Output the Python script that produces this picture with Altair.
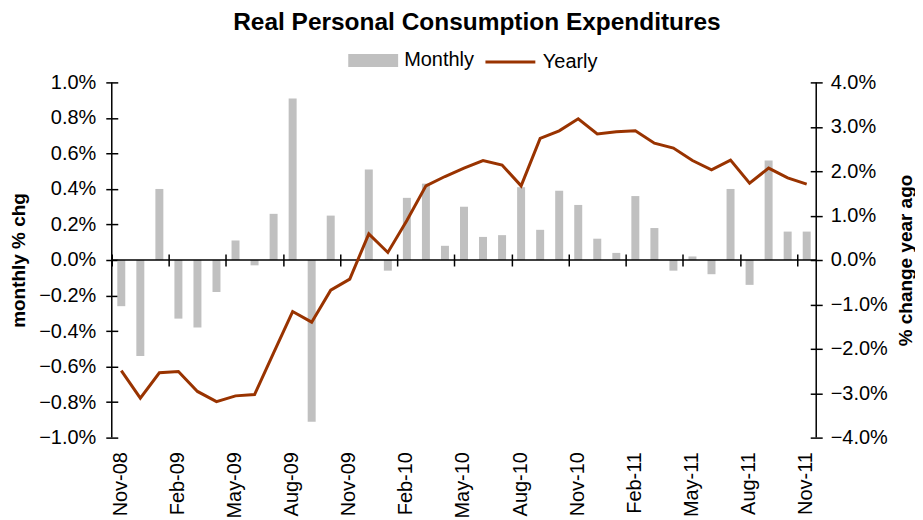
import altair as alt
import pandas as pd

months = ["Nov-08", "Dec-08", "Jan-09", "Feb-09", "Mar-09", "Apr-09", "May-09", "Jun-09",
          "Jul-09", "Aug-09", "Sep-09", "Oct-09", "Nov-09", "Dec-09", "Jan-10", "Feb-10",
          "Mar-10", "Apr-10", "May-10", "Jun-10", "Jul-10", "Aug-10", "Sep-10", "Oct-10",
          "Nov-10", "Dec-10", "Jan-11", "Feb-11", "Mar-11", "Apr-11", "May-11", "Jun-11",
          "Jul-11", "Aug-11", "Sep-11", "Oct-11", "Nov-11"]

monthly = [-0.26, -0.54, 0.40, -0.33, -0.38, -0.18, 0.11, -0.03, 0.26, 0.91, -0.91, 0.25,
           0.00, 0.51, -0.06, 0.35, 0.43, 0.08, 0.30, 0.13, 0.14, 0.41, 0.17, 0.39,
           0.31, 0.12, 0.04, 0.36, 0.18, -0.06, 0.02, -0.08, 0.40, -0.14, 0.56, 0.16, 0.16]

yearly = [-2.49, -3.11, -2.54, -2.51, -2.96, -3.19, -3.06, -3.03, -2.09, -1.16, -1.40, -0.68,
          -0.43, 0.59, 0.17, 0.89, 1.67, 1.88, 2.07, 2.24, 2.14, 1.67, 2.74, 2.91,
          3.18, 2.84, 2.89, 2.91, 2.63, 2.52, 2.24, 2.03, 2.25, 1.73, 2.07, 1.85, 1.71]

tick_labels = months[::3]
left_ticks = [-1.0, -0.8, -0.6, -0.4, -0.2, 0.0, 0.2, 0.4, 0.6, 0.8, 1.0]
right_ticks = [-4, -3, -2, -1, 0, 1, 2, 3, 4]

n = len(months)
df = pd.DataFrame({
    "idx": [i + 0.5 for i in range(n)],
    "month": months,
    "monthly": monthly,
    "yearly": yearly,
    "sm": ["Monthly"] * n,
    "sy": ["Yearly"] * n,
})
edges = pd.DataFrame({"edge": [0, n]})
zero = pd.DataFrame({"z": [0.0]})

W, H = 706, 356
FONT = "Arial, Liberation Sans, sans-serif"
GRAY = "#c0c0c0"
RED = "#993300"
TK = 12      # crossing tick length
HALF = 6     # half of it

label_arr = "[" + ",".join("'" + t + "'" for t in tick_labels) + "]"

common_legend = dict(title=None, orient="none", direction="horizontal",
                     symbolSize=2500, labelFontSize=20, labelFont=FONT, labelColor="#000",
                     labelOffset=6, padding=0)

bar_legend = alt.Legend(legendX=237, legendY=-47,
                        symbolType="M-1,-0.26H1V0.26H-1Z", symbolStrokeWidth=0,
                        symbolOpacity=1, **common_legend)
line_legend = alt.Legend(legendX=373, legendY=-47,
                         symbolType="stroke", symbolStrokeWidth=3, symbolOpacity=1,
                         **common_legend)

xscale = alt.Scale(domain=[0, n], nice=False, zero=False, padding=0)
xaxis = alt.Axis(
    values=list(range(0, n, 3)), labelExpr=label_arr + "[round(datum.value/3)]",
    title=None, offset=-H / 2 - HALF, labelPadding=186, tickSize=TK, labelAngle=270,
    labelOffset=8.5, grid=False, labelFontSize=20, labelFont=FONT, domain=False,
    labelColor="#000", tickColor="#000", tickWidth=1.5,
    labelOverlap=False, labelBound=False, labelFlush=False)

yscale_l = alt.Scale(domain=[-1, 1], nice=False)
yaxis_l = alt.Axis(
    values=left_ticks, labelExpr="format(datum.value, '.1f') + '%'",
    title="monthly % chg", titleFontSize=19, titleFont=FONT, titleFontWeight="bold",
    titleColor="#000", titlePadding=10, tickSize=TK, offset=-HALF, labelPadding=10,
    grid=False, domain=False, labelFontSize=20, labelFont=FONT, labelColor="#000",
    tickColor="#000", tickWidth=1.5)

bars = alt.Chart(df).mark_bar(size=8).encode(
    x=alt.X("idx:Q", scale=xscale, axis=xaxis),
    y=alt.Y("monthly:Q", scale=yscale_l, axis=yaxis_l),
    color=alt.Color("sm:N", scale=alt.Scale(domain=["Monthly"], range=[GRAY]), legend=bar_legend),
)

zero_rule = alt.Chart(zero).mark_rule(color="#000", strokeWidth=1.5).encode(
    y=alt.Y("z:Q", scale=yscale_l, axis=yaxis_l),
)

edge_rules = alt.Chart(edges).mark_rule(color="#000", strokeWidth=1.5).encode(
    x=alt.X("edge:Q", scale=xscale, axis=xaxis),
)

left_layer = alt.layer(bars, zero_rule, edge_rules)

line = alt.Chart(df).mark_line(strokeWidth=3).encode(
    x=alt.X("idx:Q", scale=xscale, axis=xaxis),
    y=alt.Y("yearly:Q", scale=alt.Scale(domain=[-4, 4], nice=False), axis=alt.Axis(
        orient="right", values=right_ticks, labelExpr="format(datum.value, '.1f') + '%'",
        title="% change year ago", titleFontSize=19, titleFont=FONT, titleFontWeight="bold",
        titleColor="#000", titlePadding=9, titleAngle=270, titleBaseline="top",
        tickSize=TK, offset=-HALF, labelPadding=8, grid=False, domain=False,
        labelFontSize=20, labelFont=FONT, labelColor="#000",
        tickColor="#000", tickWidth=1.5)),
    stroke=alt.Stroke("sy:N", scale=alt.Scale(domain=["Yearly"], range=[RED]), legend=line_legend),
)

chart = alt.layer(left_layer, line).resolve_scale(y="independent").properties(
    width=W, height=H,
    title=alt.TitleParams("Real Personal Consumption Expenditures", fontSize=24.5,
                          fontWeight="bold", font=FONT, color="#000", anchor="middle",
                          offset=0, dx=13),
    autosize=alt.AutoSizeParams(type="none"),
    padding={"left": 104, "top": 74, "right": 99, "bottom": 80},
).configure_view(stroke=None)

chart.save("out.html", embed_options={"renderer": "svg", "actions": False})
